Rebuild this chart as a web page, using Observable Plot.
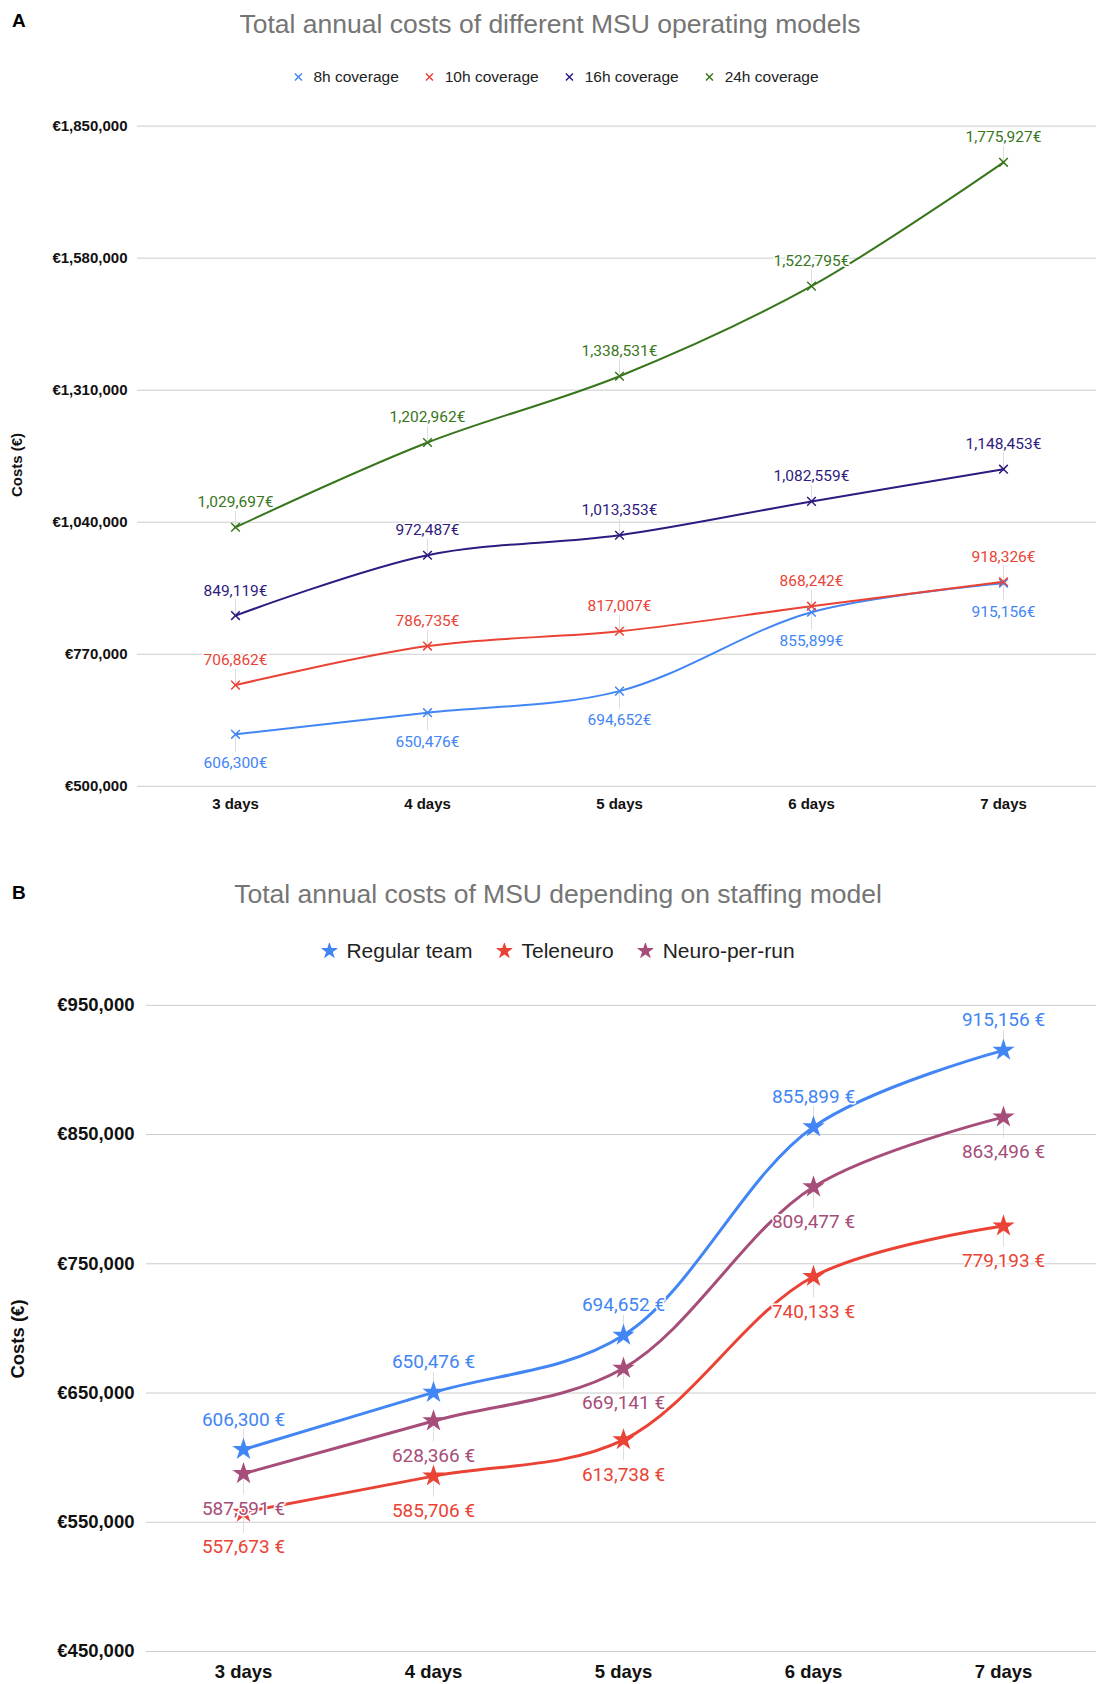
<!DOCTYPE html>
<html><head><meta charset="utf-8">
<script src="https://cdn.jsdelivr.net/npm/d3@7"></script>
<script src="https://cdn.jsdelivr.net/npm/@observablehq/plot@0.6"></script>
<style>
body{margin:0;background:#fff;}
#page{position:relative;width:1096px;height:1684px;overflow:hidden;font-family:"Liberation Sans",Arial,sans-serif;background:#fff;}
.abs{position:absolute;transform:translate(-50%,-50%);white-space:nowrap;line-height:1.15;}
.ylab{position:absolute;transform:translate(-50%,-50%) rotate(-90deg);white-space:nowrap;line-height:1.15;font-weight:bold;color:#111;}
.panel{position:absolute;font-weight:bold;font-size:19px;color:#000;line-height:1;}
.title{color:#757575;font-size:26.5px;}
.legend{display:flex;align-items:center;color:#222;}
.legend .item{display:flex;align-items:center;}
.plotwrap{position:absolute;left:0;}
</style></head>
<body><div id="page"></div>
<script>
// ---------- Data ----------
const days = ["3 days", "4 days", "5 days", "6 days", "7 days"];

// Panel A
const seriesA = ["8h coverage", "10h coverage", "16h coverage", "24h coverage"];
const cov8h  = [606300, 650476, 694652, 855899, 915156];
const cov10h = [706862, 786735, 817007, 868242, 918326];
const cov16h = [849119, 972487, 1013353, 1082559, 1148453];
const cov24h = [1029697, 1202962, 1338531, 1522795, 1775927];
const labelSideA = ["below", "above", "above", "above"];
const colorsA = ["#4285f4", "#ea4335", "#2f1a80", "#38761d"];
const yTicksA = [500000, 770000, 1040000, 1310000, 1580000, 1850000];

// Panel B
const seriesB = ["Regular team", "Teleneuro", "Neuro-per-run"];
const regularTeam = [606300, 650476, 694652, 855899, 915156];
const teleneuro   = [557673, 585706, 613738, 740133, 779193];
const neuroPerRun = [587591, 628366, 669141, 809477, 863496];
const labelSideB = ["above", "below", "below"];
const colorsB = ["#4285f4", "#ea4335", "#a64d79"];
const yTicksB = [450000, 550000, 650000, 750000, 850000, 950000];

const titleA = "Total annual costs of different MSU operating models";
const titleB = "Total annual costs of MSU depending on staffing model";
const yLabel = "Costs (€)";

// ---------- Build tables ----------
function table(series, values, sides) {
  const rows = [];
  series.forEach((s, i) => days.forEach((d, j) =>
    rows.push({series: s, day: d, value: values[i][j], below: sides[i] === "below"})));
  return rows;
}
const dataA = table(seriesA, [cov8h, cov10h, cov16h, cov24h], labelSideA);
const dataB = table(seriesB, [regularTeam, teleneuro, neuroPerRun], labelSideB);

const euroTick = d => "€" + d3.format(",")(d);
const page = document.getElementById("page");

function addDiv(cls, html, styles) {
  const el = document.createElement("div");
  el.className = cls;
  el.innerHTML = html;
  Object.assign(el.style, styles);
  page.appendChild(el);
  return el;
}

// ---------- Headers ----------
addDiv("panel", "A", {left: "12px", top: "11px"});
addDiv("abs title", titleA, {left: "550px", top: "24px"});
addDiv("panel", "B", {left: "12px", top: "883px"});
addDiv("abs title", titleB, {left: "558px", top: "894px"});
addDiv("ylab", yLabel, {left: "17px", top: "465px", fontSize: "15px"});
addDiv("ylab", yLabel, {left: "18px", top: "1339px", fontSize: "18.5px"});

// Legends
function legend(series, colors, symbolSvg, fontSize, gapSym, gapItem, cx, cy) {
  const items = series.map((s, i) =>
    `<div class="item" style="margin-right:${i < series.length - 1 ? gapItem : 0}px">${symbolSvg(colors[i])}<span style="margin-left:${gapSym}px;font-size:${fontSize}px">${s}</span></div>`
  ).join("");
  addDiv("abs legend", items, {left: cx + "px", top: cy + "px"});
}
const timesSym = c => `<svg width="10" height="10" viewBox="-5 -5 10 10"><path d="M-3.5,-3.5L3.5,3.5M3.5,-3.5L-3.5,3.5" stroke="${c}" stroke-width="1.5"/></svg>`;
const starSym = c => `<svg width="16" height="16" viewBox="-8 -8 16 16"><path d="${d3.symbol(d3.symbolStar, 95)()}" fill="${c}"/></svg>`;
legend(seriesA, colorsA, timesSym, 15.5, 10, 26, 556, 77);
legend(seriesB, colorsB, starSym, 21, 9, 24, 558, 951);

// ---------- Plot builder ----------
function makePlot(opts) {
  const {data, series, colors, ticks, height, mTop, mBottom, mLeft, xRange,
         axisFont, tickPadX, tickPadY, labelFont, labelUp, labelDown, stemUp, stemDown,
         lineWidth, symbol, r, labelFmt} = opts;
  const yDomain = [ticks[0], ticks[ticks.length - 1]];
  return Plot.plot({
    width: 1096, height, marginTop: mTop, marginBottom: mBottom, marginLeft: mLeft, marginRight: 0,
    style: {fontFamily: "'Liberation Sans', Arial, sans-serif", fontSize: axisFont + "px", fontWeight: "bold", color: "#111", background: "transparent", overflow: "visible"},
    x: {type: "point", domain: days, range: xRange, padding: 0, label: null, tickSize: 0, tickPadding: tickPadX},
    y: {domain: yDomain, ticks, tickFormat: euroTick, label: null, tickSize: 0, tickPadding: tickPadY},
    color: {domain: series, range: colors},
    marks: [
      Plot.ruleY(ticks, {stroke: "#cccccc", strokeWidth: 1}),
      Plot.line(data, {x: "day", y: "value", z: "series", stroke: "series", strokeWidth: lineWidth, curve: "catmull-rom"}),
      Plot.ruleX(data.filter(d => !d.below), {x: "day", y1: "value", y2: "value", insetTop: -stemUp, insetBottom: 0, stroke: "#dddddd", strokeWidth: 1}),
      Plot.ruleX(data.filter(d => d.below), {x: "day", y1: "value", y2: "value", insetTop: 0, insetBottom: -stemDown, stroke: "#dddddd", strokeWidth: 1}),
      symbol === "times"
        ? Plot.dot(data, {x: "day", y: "value", symbol: "times", r, stroke: "series", strokeWidth: 1.5})
        : Plot.dot(data, {x: "day", y: "value", symbol: "star", r, fill: "series", stroke: null}),
      Plot.text(data.filter(d => !d.below), {x: "day", y: "value", text: d => labelFmt(d.value), dy: -labelUp, fill: "series", stroke: "white", strokeWidth: 3, fontFamily: "Roboto, sans-serif", fontWeight: "normal", fontSize: labelFont, lineAnchor: "middle"}),
      Plot.text(data.filter(d => d.below), {x: "day", y: "value", text: d => labelFmt(d.value), dy: labelDown, fill: "series", stroke: "white", strokeWidth: 3, fontFamily: "Roboto, sans-serif", fontWeight: "normal", fontSize: labelFont, lineAnchor: "middle"})
    ]
  });
}

const plotA = makePlot({
  data: dataA, series: seriesA, colors: colorsA, ticks: yTicksA,
  height: 730, mTop: 25.6, mBottom: 44.2, mLeft: 137, xRange: [233, 1004],
  axisFont: 15, tickPadX: 12, tickPadY: 10, labelFont: 15.5, labelUp: 25, labelDown: 29,
  stemUp: 16, stemDown: 18, lineWidth: 2, symbol: "times", r: 4,
  labelFmt: v => d3.format(",")(v) + "€"
});
const wrapA = document.createElement("div");
wrapA.className = "plotwrap"; wrapA.style.top = "100px";
wrapA.appendChild(plotA); page.appendChild(wrapA);

const plotB = makePlot({
  data: dataB, series: seriesB, colors: colorsB, ticks: yTicksB,
  height: 709, mTop: 29.8, mBottom: 33, mLeft: 146, xRange: [241.5, 1004.8],
  axisFont: 18.5, tickPadX: 13, tickPadY: 12, labelFont: 19, labelUp: 30, labelDown: 35,
  stemUp: 20, stemDown: 21, lineWidth: 3, symbol: "star", r: 7,
  labelFmt: v => d3.format(",")(v) + " €"
});
const wrapB = document.createElement("div");
wrapB.className = "plotwrap"; wrapB.style.top = "975px";
wrapB.appendChild(plotB); page.appendChild(wrapB);
</script>
</body></html>
